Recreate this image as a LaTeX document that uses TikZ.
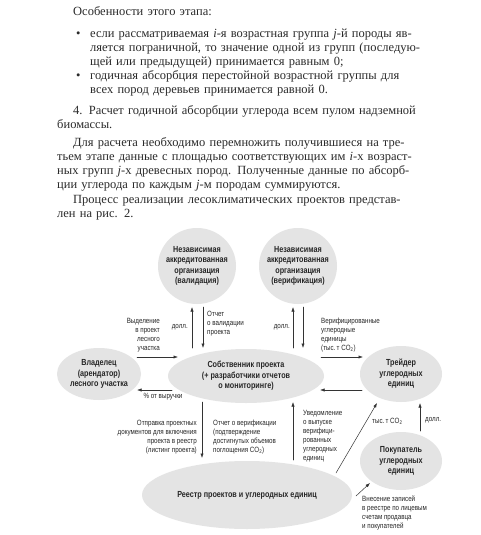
\documentclass[tikz,border=0pt]{standalone}
\usepackage{fontspec}
\setmainfont{Liberation Serif}
\newfontfamily\dgfont[FakeStretch=0.82]{Liberation Sans}
\usetikzlibrary{arrows.meta,shapes.geometric}
\definecolor{blobgray}{HTML}{E4E4E4}
\definecolor{dgtext}{HTML}{262626}
\definecolor{arrgray}{HTML}{333333}
\definecolor{textc}{HTML}{2A2A2A}
\newcommand{\jline}[1]{\hbox to \hsize{#1}}
\newcommand{\bul}{\hskip19pt\hbox to 14pt{\textbullet\hfil}}
\begin{document}
\begin{tikzpicture}[x=1pt,y=-1pt,>={Latex[length=4.5pt,width=3.2pt]},line cap=round,
	blob/.style={ellipse,fill=blobgray,inner sep=0pt},
	head/.style={font=\dgfont\bfseries\fontsize{8.8}{10.5}\selectfont,align=center,text=dgtext},
	lbl/.style={font=\dgfont\fontsize{7.6}{9}\selectfont,inner sep=0pt,text=dgtext},
	arr/.style={->,draw=arrgray,line width=0.5pt}]
	\fill[white] (0,0) rectangle (480,535);
	\useasboundingbox (0,0) rectangle (480,535);
	% text above the figure
	\node[anchor=north west,inner sep=0pt,text width=386pt,text=textc,
		font=\fontsize{12.5}{14}\selectfont] (body) at (57,6.5) {%
		\jline{\hskip16pt Особенности этого этапа:\hfil}\vskip8pt
		\jline{\bul если рассматриваемая \textit{i}-я возрастная группа \textit{j}-й породы яв-}
		\jline{\hskip33pt ляется пограничной, то значение одной из групп (последую-}
		\jline{\hskip33pt щей или предыдущей) принимается равным 0;\hfil}
		\jline{\bul годичная абсорбция перестойной возрастной группы для}
		\jline{\hskip33pt всех пород деревьев принимается равной 0.\hfil}\vskip7pt
		\jline{\hskip16pt 4. Расчет годичной абсорбции углерода всем пулом надземной}
		\jline{биомассы.\hfil}\vskip4pt
		\jline{\hskip16pt Для расчета необходимо перемножить получившиеся на тре-}
		\jline{тьем этапе данные с площадью соответствующих им \textit{i}-х возраст-}
		\jline{ных групп \textit{j}-х древесных пород. Полученные данные по абсорб-}
		\jline{ции углерода по каждым \textit{j}-м породам суммируются.\hfil}\vskip1pt
		\jline{\hskip16pt Процесс реализации лесоклиматических проектов представ-}
		\jline{лен на рис. 2.\hfil}};
	% participants
	\node[blob,minimum width=78,minimum height=76,
		label={[head]center:{Независимая\\аккредитованная\\организация\\(валидация)}}] (val) at (197,266) {};
	\node[blob,minimum width=78,minimum height=76,
		label={[head]center:{Независимая\\аккредитованная\\организация\\(верификация)}}] (ver) at (298,266) {};
	\node[blob,minimum width=156,minimum height=54,
		label={[head]center:{Собственник проекта\\(+ разработчики отчетов\\о мониторинге)}}] (own) at (246,376) {};
	\node[blob,minimum width=84,minimum height=52,
		label={[head]center:{Владелец\\(арендатор)\\лесного участка}}] (vlad) at (99,374) {};
	\node[blob,minimum width=82,minimum height=56,
		label={[head]center:{Трейдер\\углеродных\\единиц}}] (trd) at (401,374) {};
	\node[blob,minimum width=82,minimum height=58,
		label={[head]center:{Покупатель\\углеродных\\единиц}}] (buy) at (401,461) {};
	\node[blob,minimum width=210,minimum height=68,
		label={[head]center:{Реестр проектов и углеродных единиц}}] (reg) at (247,495) {};
	% arrow ends
	\foreach \n/\x/\y in {ov0/192/348,ov1/192/307,vo0/203/307,vo1/203/348,
		or0/293/348,or1/293/307,ro0/303/307,ro1/303/348,
		lo0/137/357,lo1/178/357,ol0/172/390,ol1/137/390,
		ot0/321/357,ot1/363/357,to0/362/390,to1/320/390,
		og0/202/402,og1/202/458,go0/293/460,go1/293/402,
		gt0/336/473,gt1/377/403,bt0/420/431,bt1/420/403,
		eb0/356/496,eb1/370/483}
		\path (\x,\y) coordinate (\n);
	\foreach \a/\b in {ov0/ov1,vo0/vo1,or0/or1,ro0/ro1,lo0/lo1,ol0/ol1,ot0/ot1,to0/to1,
		og0/og1,go0/go1,gt0/gt1,bt0/bt1,eb0/eb1}
		\draw[arr] (\a)--(\b);
	% flow labels
	\node[lbl,anchor=east] (l1) at (188,327) {долл.};
	\node[lbl,anchor=west,align=left] (l2) at (207,324) {Отчет\\о валидации\\проекта};
	\node[lbl,anchor=east] (l3) at (290,327) {долл.};
	\node[lbl,anchor=east,align=right] (l4) at (160,335.5) {Выделение\\в проект\\лесного\\участка};
	\node[lbl] (l5) at (163,397) {\% от выручки};
	\node[lbl,anchor=west,align=left] (l6) at (321,335.5) {Верифицированные\\углеродные\\единицы\\(тыс.\,т CO\textsubscript{2})};
	\node[lbl,anchor=east,align=right] (l7) at (197,437) {Отправка проектных\\документов для включения\\проекта в реестр\\(листинг проекта)};
	\node[lbl,anchor=west,align=left] (l8) at (213,437) {Отчет о верификации\\(подтверждение\\достигнутых объемов\\поглощения CO\textsubscript{2})};
	\node[lbl,anchor=west,align=left] (l9) at (303,436) {Уведомление\\о выпуске\\верифици-\\рованных\\углеродных\\единиц};
	\node[lbl,anchor=west] (l10) at (372,421) {тыс.\,т CO\textsubscript{2}};
	\node[lbl,anchor=west] (l11) at (425,420) {долл.};
	\node[lbl,anchor=west,align=left] (l12) at (362,512.5) {Внесение записей\\в реестре по лицевым\\счетам продавца\\и покупателей};
\end{tikzpicture}
\end{document}
